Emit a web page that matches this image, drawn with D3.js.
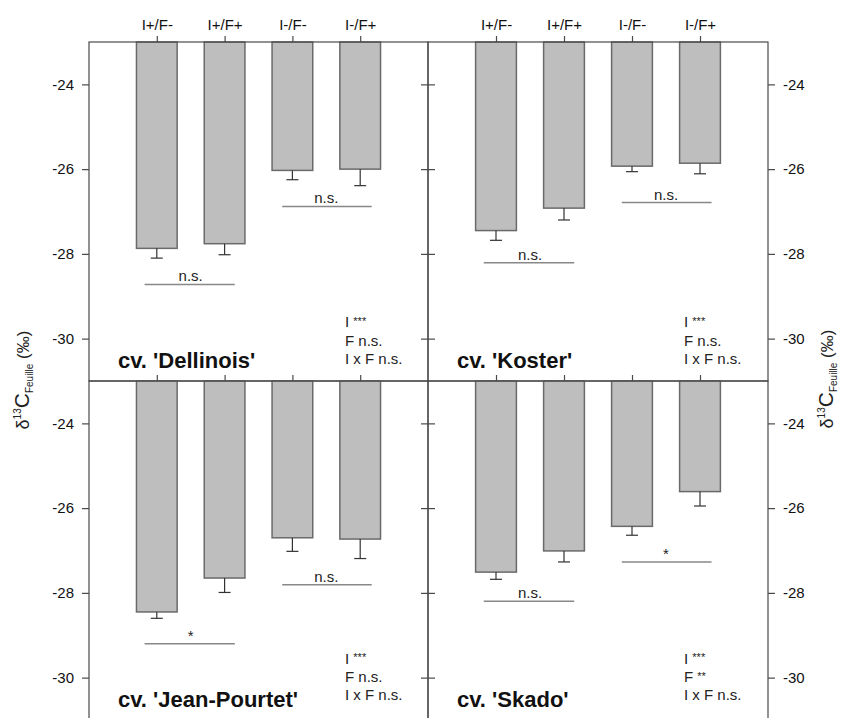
<!DOCTYPE html>
<html>
<head>
<meta charset="utf-8">
<script src="https://cdn.jsdelivr.net/npm/d3@7"></script>
<style>
  html, body { margin: 0; padding: 0; background: #ffffff; }
  svg { display: block; font-family: "Liberation Sans", Arial, sans-serif; }
</style>
</head>
<body>
<svg id="chart" width="841" height="718"></svg>
<script>
// ---------- data ----------
const categories = ["I+/F-", "I+/F+", "I-/F-", "I-/F+"];
const cultivars = ["cv. 'Dellinois'", "cv. 'Koster'", "cv. 'Jean-Pourtet'", "cv. 'Skado'"];
const yTicks = [-24, -26, -28, -30];

const dellinoisMean = [-27.87, -27.76, -26.03, -26.00];
const dellinoisSE   = [0.23, 0.26, 0.22, 0.39];
const kosterMean    = [-27.45, -26.92, -25.93, -25.86];
const kosterSE      = [0.23, 0.28, 0.13, 0.25];
const jeanMean      = [-28.45, -27.65, -26.70, -26.73];
const jeanSE        = [0.15, 0.34, 0.32, 0.46];
const skadoMean     = [-27.51, -27.01, -26.43, -25.61];
const skadoSE       = [0.17, 0.26, 0.21, 0.34];

// pairwise comparison (I+ pair, I- pair): label and level of the line
const sigLabels = [["n.s.", "n.s."], ["n.s.", "n.s."], ["*", "n.s."], ["n.s.", "*"]];
const sigLevels = [[-28.72, -26.88], [-28.21, -26.79], [-29.20, -27.81], [-28.20, -27.27]];

// ANOVA results: I, F, I x F
const statI   = ["***", "***", "***", "***"];
const statF   = ["n.s.", "n.s.", "n.s.", "**"];
const statIxF = ["n.s.", "n.s.", "n.s.", "n.s."];

const means = [dellinoisMean, kosterMean, jeanMean, skadoMean];
const ses = [dellinoisSE, kosterSE, jeanSE, skadoSE];

// ---------- layout ----------
const svg = d3.select("#chart");
const colX = [[89, 428], [428, 768]];
const rowY = [[42, 381], [381, 720]];
const frameColor = "#4a4a4a";
const font = "Liberation Sans, Arial, sans-serif";
const fmt = d => String(d);

const panels = [
  {col: 0, row: 0}, {col: 1, row: 0}, {col: 0, row: 1}, {col: 1, row: 1}
];

panels.forEach((p, k) => {
  const [x0, x1] = colX[p.col];
  const [y0, y1] = rowY[p.row];
  const x = d3.scaleLinear().domain([0, 5]).range([x0, x1]);
  const y = d3.scaleLinear().domain([-23, -31]).range([y0, y1]);
  const g = svg.append("g");

  const data = categories.map((c, i) => ({c, i: i + 1, m: means[k][i], se: ses[k][i]}));

  // bars
  g.selectAll("rect.bar").data(data).join("rect")
    .attr("class", "bar")
    .attr("x", d => x(d.i - 0.3))
    .attr("width", x(0.6) - x(0))
    .attr("y", y(-23))
    .attr("height", d => y(d.m) - y(-23))
    .attr("fill", "#bebebe")
    .attr("stroke", "#6a6a6a")
    .attr("stroke-width", 1.5);

  // error bars
  g.selectAll("line.err").data(data).join("line")
    .attr("x1", d => x(d.i)).attr("x2", d => x(d.i))
    .attr("y1", d => y(d.m)).attr("y2", d => y(d.m - d.se))
    .attr("stroke", "#333").attr("stroke-width", 1.2);
  g.selectAll("line.cap").data(data).join("line")
    .attr("x1", d => x(d.i) - 6).attr("x2", d => x(d.i) + 6)
    .attr("y1", d => y(d.m - d.se)).attr("y2", d => y(d.m - d.se))
    .attr("stroke", "#333").attr("stroke-width", 1.2);

  // significance lines
  const spans = [[0.82, 2.15], [2.85, 4.17]];
  const mids = [1.5, 3.5];
  spans.forEach((s, j) => {
    g.append("line")
      .attr("x1", x(s[0])).attr("x2", x(s[1]))
      .attr("y1", y(sigLevels[k][j])).attr("y2", y(sigLevels[k][j]))
      .attr("stroke", "#888").attr("stroke-width", 1.5);
    g.append("text")
      .attr("x", x(mids[j])).attr("y", y(sigLevels[k][j]) - 3)
      .attr("text-anchor", "middle")
      .attr("font-size", 15).attr("fill", "#222")
      .text(sigLabels[k][j]);
  });

  // frame
  g.append("rect")
    .attr("x", x0).attr("y", y0).attr("width", x1 - x0).attr("height", y1 - y0)
    .attr("fill", "none").attr("stroke", frameColor).attr("stroke-width", 1.2);

  // y axes
  const leftAxis = d3.axisLeft(y).tickValues(yTicks).tickSize(7).tickPadding(8)
    .tickFormat(p.col === 0 ? fmt : () => "");
  const rightAxis = d3.axisRight(y).tickValues(yTicks).tickSize(7).tickPadding(8)
    .tickFormat(p.col === 1 ? fmt : () => "");
  [[leftAxis, x0], [rightAxis, x1]].forEach(([ax, px]) => {
    const a = g.append("g").attr("transform", `translate(${px},0)`).call(ax);
    a.select(".domain").remove();
    a.selectAll("line").attr("stroke", frameColor).attr("stroke-width", 1.2);
    a.selectAll("text").attr("font-size", 15).attr("font-family", font).attr("fill", "#111");
  });

  // top axis
  const xb = d3.scalePoint().domain(categories).range([x(1), x(4)]);
  const topAxis = d3.axisTop(xb).tickSize(6).tickPadding(6)
    .tickFormat(p.row === 0 ? (d => d) : () => "");
  const ta = g.append("g").attr("transform", `translate(0,${y0})`).call(topAxis);
  ta.select(".domain").remove();
  ta.selectAll("line").attr("stroke", frameColor).attr("stroke-width", 1.2);
  ta.selectAll("text").attr("font-size", 15).attr("font-family", font).attr("fill", "#111");

  // cultivar title
  g.append("text")
    .attr("x", x0 + 29).attr("y", y0 + 326)
    .attr("font-size", 22).attr("font-weight", "bold").attr("fill", "#111")
    .text(cultivars[k]);

  // ANOVA summary
  const ax = x0 + 256;
  const base = p.row === 0 ? [285, 303.5, 322] : [282.5, 301, 319];
  const t1 = g.append("text").attr("x", ax).attr("y", y0 + base[0]).attr("font-size", 15).attr("fill", "#222");
  t1.append("tspan").text("I ");
  t1.append("tspan").attr("font-size", 11).attr("dy", -2.5).text(statI[k]);
  const t2 = g.append("text").attr("x", ax).attr("y", y0 + base[1]).attr("font-size", 15).attr("fill", "#222");
  t2.append("tspan").text("F ");
  if (statF[k].includes("*")) {
    t2.append("tspan").attr("font-size", 11).attr("dy", -2.5).text(statF[k]);
  } else {
    t2.append("tspan").text(statF[k]);
  }
  g.append("text").attr("x", ax).attr("y", y0 + base[2]).attr("font-size", 15).attr("fill", "#222")
    .text("I x F " + statIxF[k]);
});

// y-axis titles (left and right)
function yTitle(px, py) {
  const t = svg.append("text")
    .attr("transform", `translate(${px},${py}) rotate(-90)`)
    .attr("text-anchor", "middle")
    .attr("fill", "#222");
  t.append("tspan").attr("font-size", 18).text("δ");
  t.append("tspan").attr("font-size", 10).attr("dy", -8).text("13");
  t.append("tspan").attr("font-size", 21).attr("dy", 8).text("C");
  t.append("tspan").attr("font-size", 10).attr("dy", 4).text("Feuille");
  t.append("tspan").attr("font-size", 17).attr("dy", -4).text(" (‰)");
}
yTitle(29, 380);
yTitle(833, 379);
</script>
</body>
</html>
